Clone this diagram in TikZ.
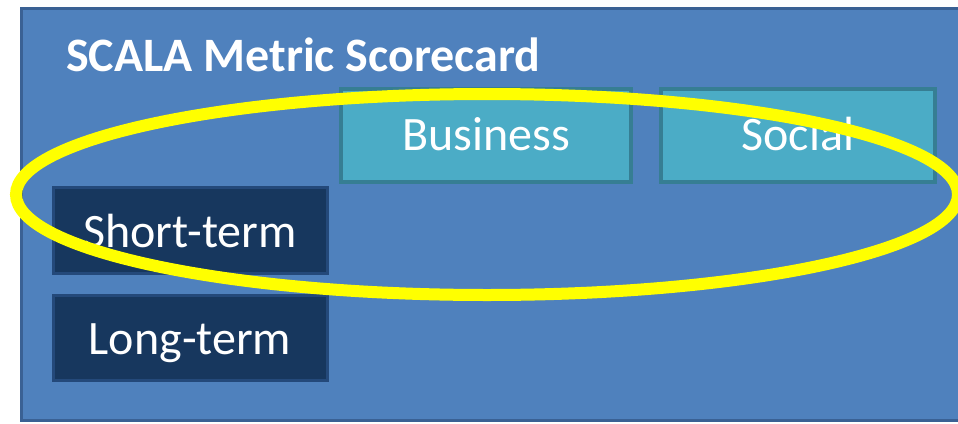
\documentclass[tikz,border=0pt]{standalone}
\usepackage{fontspec}
\setmainfont{Carlito}
\definecolor{bgfill}{HTML}{4F81BD}
\definecolor{bgline}{HTML}{3A6194}
\definecolor{tealfill}{HTML}{4BACC6}
\definecolor{tealline}{HTML}{367E93}
\definecolor{navyfill}{HTML}{17375E}
\definecolor{navyline}{HTML}{24497A}
\definecolor{hilite}{HTML}{FFFF00}
\begin{document}
\begin{tikzpicture}[x=1pt,y=-1pt,
  colbox/.style={draw=tealline,fill=tealfill,line width=4pt,text=white,
    inner sep=0pt,text depth=0pt,text height=29pt,font=\fontsize{48}{56}\selectfont},
  rowbox/.style={draw=navyline,fill=navyfill,line width=3pt,text=white,
    inner sep=0pt,text depth=0pt,font=\fontsize{48}{56}\selectfont}]
\useasboundingbox[fill=white] (0,0) rectangle (958,423);
\begin{scope}
\clip (0,0) rectangle (958,423);
\draw[bgline,fill=bgfill,line width=3pt] (21,8) rectangle (975,420);
\end{scope}
\node[anchor=base west,text=white,font=\bfseries\fontsize{48}{56}\selectfont,inner sep=0pt] (title) at (66,71) {SCALA Metric Scorecard};
\node[colbox,minimum width=290pt,minimum height=93pt] (business) at (486,135.5) {Business};
\node[colbox,minimum width=274pt,minimum height=93pt] (social) at (798,135.5) {Social};
\node[rowbox,text height=34pt,minimum width=274pt,minimum height=86pt] (short) at (190,230) {Short-term};
\node[rowbox,text height=32pt,minimum width=274pt,minimum height=85pt] (long) at (190,338) {Long-term};
\begin{scope}
\clip (0,0) rectangle (958,423);
\draw[hilite,line width=12pt] (487,194.5) ellipse [x radius=471, y radius=100.5];
\end{scope}
\end{tikzpicture}
\end{document}
